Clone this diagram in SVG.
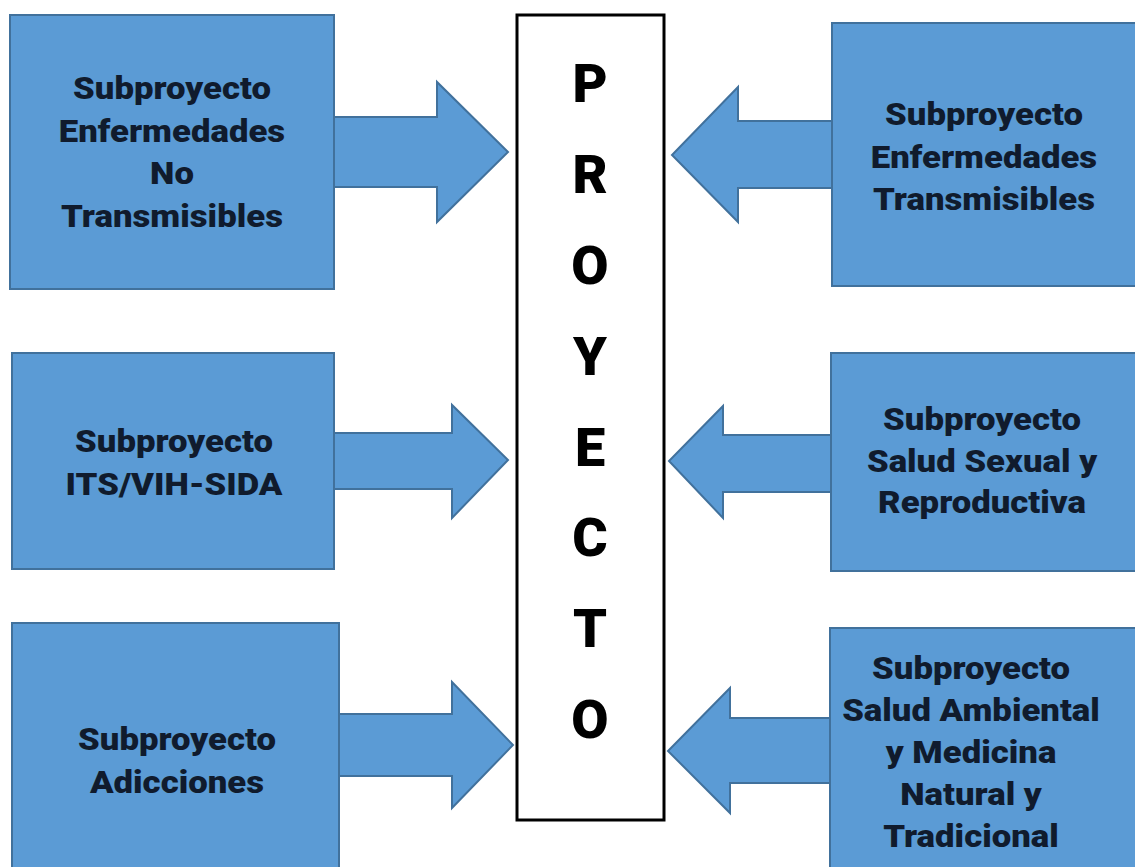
<svg xmlns="http://www.w3.org/2000/svg" width="1135" height="867" viewBox="0 0 1135 867">
<style>
.box{fill:#5b9bd5;stroke:#41719c;stroke-width:2}
.arr{fill:#5b9bd5;stroke:#41719c;stroke-width:2;stroke-linejoin:miter}
.t{font-family:Roboto,"Liberation Sans",sans-serif;font-weight:900;font-size:31px;fill:#101b2d;text-anchor:middle}
.big{font-family:Roboto,"Liberation Sans",sans-serif;font-weight:900;font-size:54px;fill:#000;text-anchor:middle}
</style>
<rect width="1135" height="867" fill="#fff"/>
<g id="connectors">
<polygon class="arr" points="334,117 437,117 437,82 508,152 437,222 437,187 334,187"/>
<polygon class="arr" points="832,121 738,121 738,87 672,155 738,222 738,188 832,188"/>
<polygon class="arr" points="334,433 452,433 452,405 508,460 452,518 452,489 334,489"/>
<polygon class="arr" points="831,435 723,435 723,406 669,461 723,518 723,492 831,492"/>
<polygon class="arr" points="339,714 452,714 452,682 513,745 452,808 452,776 339,776"/>
<polygon class="arr" points="830,718 730,718 730,688 668,751 730,813 730,783 830,783"/>
</g>
<g id="proyecto">
<rect x="517" y="15" width="147" height="805" fill="#fff" stroke="#000" stroke-width="3"/>
<text class="big" x="590" y="102">P</text>
<text class="big" x="590" y="193">R</text>
<text class="big" x="590" y="284">O</text>
<text class="big" x="590" y="375">Y</text>
<text class="big" x="590" y="466">E</text>
<text class="big" x="590" y="556">C</text>
<text class="big" x="590" y="647">T</text>
<text class="big" x="590" y="738">O</text>
</g>
<g id="node-enf-no-trans">
<rect class="box" x="10" y="15" width="324" height="274"/>
<g transform="translate(172,0) scale(1.12,1)">
<text class="t" x="0" y="99">Subproyecto</text>
<text class="t" x="0" y="142">Enfermedades</text>
<text class="t" x="0" y="184">No</text>
<text class="t" x="0" y="227">Transmisibles</text>
</g>
</g>
<g id="node-enf-trans">
<rect class="box" x="832" y="23" width="310" height="263"/>
<g transform="translate(984,0) scale(1.12,1)">
<text class="t" x="0" y="125">Subproyecto</text>
<text class="t" x="0" y="168">Enfermedades</text>
<text class="t" x="0" y="210">Transmisibles</text>
</g>
</g>
<g id="node-its">
<rect class="box" x="12" y="353" width="322" height="216"/>
<g transform="translate(174,0) scale(1.12,1)">
<text class="t" x="0" y="452">Subproyecto</text>
<text class="t" x="0" y="495">ITS/VIH-SIDA</text>
</g>
</g>
<g id="node-salud-sexual">
<rect class="box" x="831" y="353" width="310" height="218"/>
<g transform="translate(982,0) scale(1.12,1)">
<text class="t" x="0" y="430">Subproyecto</text>
<text class="t" x="0" y="472">Salud Sexual y</text>
<text class="t" x="0" y="513">Reproductiva</text>
</g>
</g>
<g id="node-adicciones">
<rect class="box" x="12" y="623" width="327" height="250"/>
<g transform="translate(177,0) scale(1.12,1)">
<text class="t" x="0" y="750">Subproyecto</text>
<text class="t" x="0" y="793">Adicciones</text>
</g>
</g>
<g id="node-salud-ambiental">
<rect class="box" x="830" y="628" width="312" height="250"/>
<g transform="translate(971,0) scale(1.12,1)">
<text class="t" x="0" y="679">Subproyecto</text>
<text class="t" x="0" y="721">Salud Ambiental</text>
<text class="t" x="0" y="763">y Medicina</text>
<text class="t" x="0" y="805">Natural y</text>
<text class="t" x="0" y="847">Tradicional</text>
</g>
</g>
</svg>
